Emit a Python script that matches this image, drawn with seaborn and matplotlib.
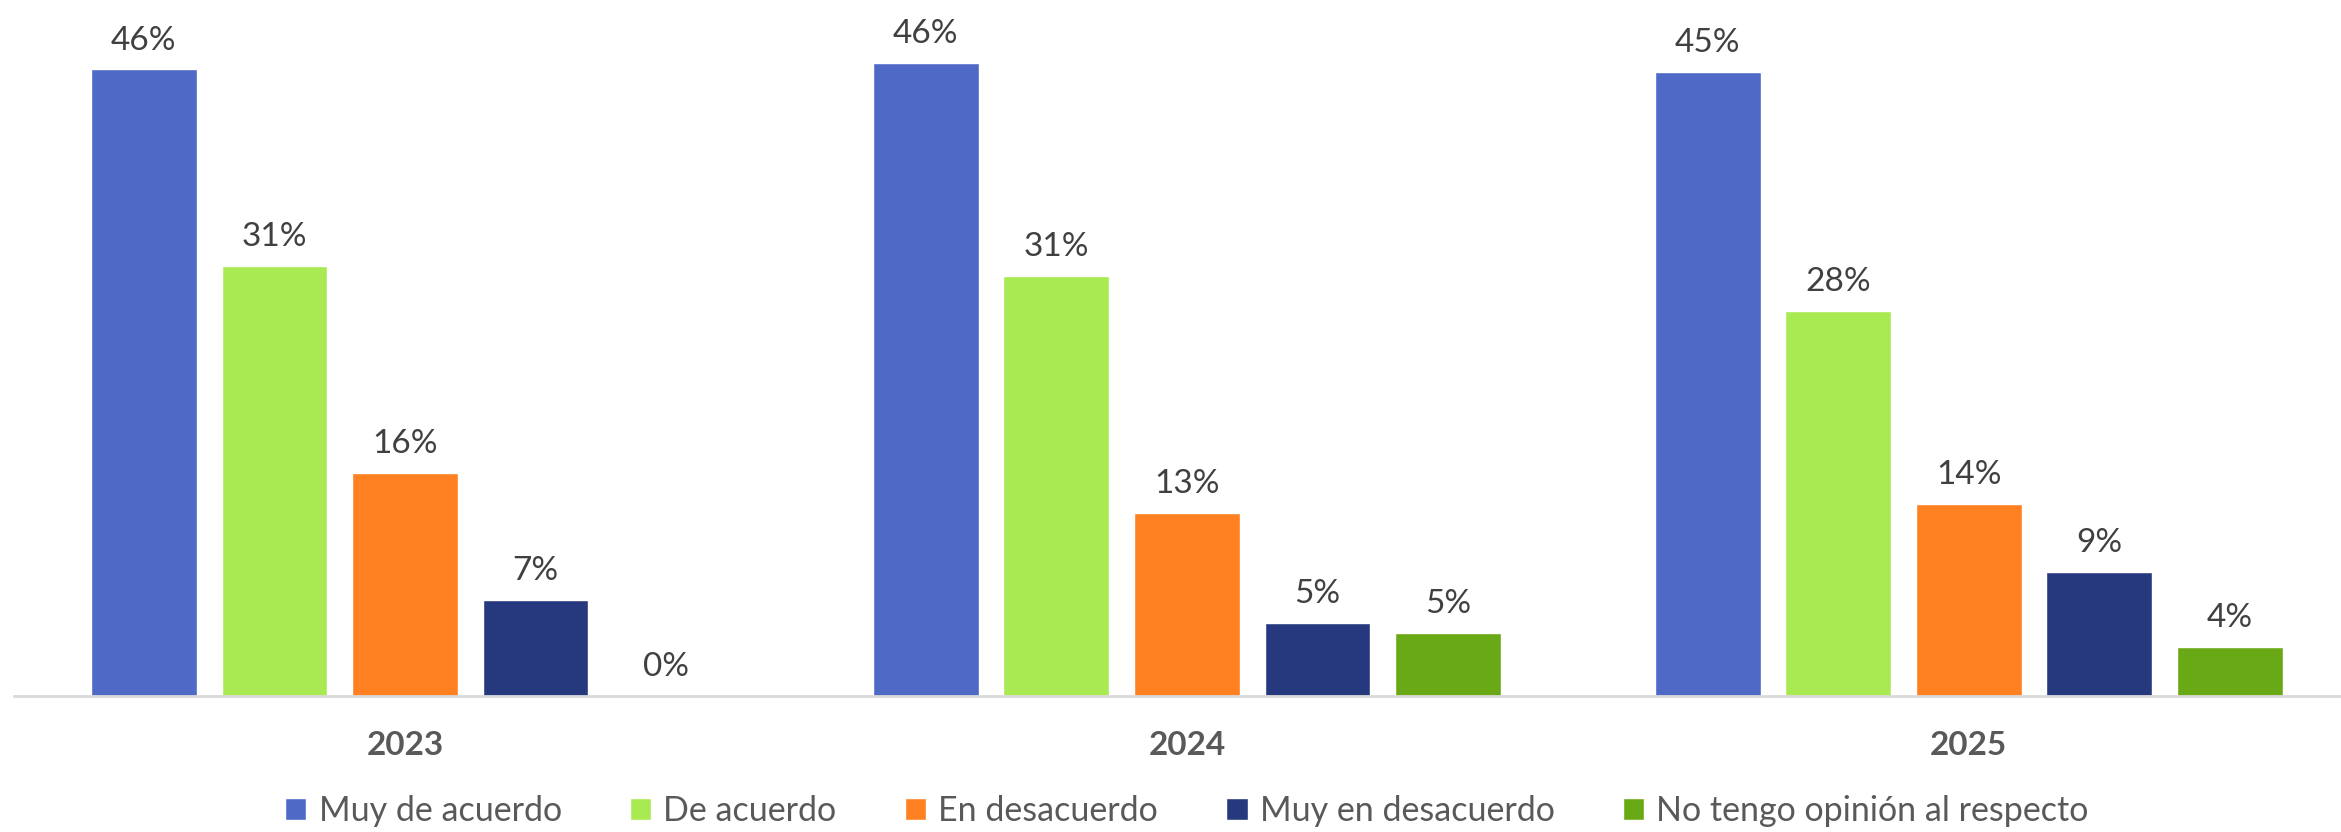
import matplotlib
matplotlib.use("Agg")
import matplotlib.pyplot as plt
import seaborn as sns
import pandas as pd

years = ["2023", "2024", "2025"]
categories = ["Muy de acuerdo", "De acuerdo", "En desacuerdo",
              "Muy en desacuerdo", "No tengo opinión al respecto"]
muy_de_acuerdo = [45.6, 46.1, 45.4]
de_acuerdo = [31.3, 30.6, 28.0]
en_desacuerdo = [16.2, 13.3, 14.0]
muy_en_desacuerdo = [7.0, 5.3, 9.0]
no_opinion = [0.0, 4.6, 3.6]
colors = ["#4F69C6", "#A9EA52", "#FE8021", "#27397E", "#6AA916"]

series = [muy_de_acuerdo, de_acuerdo, en_desacuerdo, muy_en_desacuerdo, no_opinion]
rows = []
for cat, vals in zip(categories, series):
    for y, v in zip(years, vals):
        rows.append({"year": y, "cat": cat, "value": v})
df = pd.DataFrame(rows)

sns.set_theme(style="white")
plt.rcParams["font.family"] = ["Lato", "DejaVu Sans"]

fig = plt.figure(figsize=(23.41, 8.32), dpi=100)
ax = fig.add_axes([0.006, 0.1635, 1.002, 0.8365])

sns.barplot(data=df, x="year", y="value", hue="cat", order=years,
            hue_order=categories, palette=colors, width=0.835, gap=0.19,
            saturation=1, ax=ax, legend=True)

for cont, vals in zip(ax.containers, series):
    ax.bar_label(cont, labels=[f"{v:.0f}%" for v in vals], padding=10,
                 fontsize=24, color="#404040")

ax.set_xlim(-0.5, 2.5)
ax.set_ylim(0, 50.65)
ax.set_xlabel("")
ax.set_ylabel("")
ax.set_yticks([])
for s in ["top", "left", "right"]:
    ax.spines[s].set_visible(False)
ax.spines["bottom"].set_color("#D9D9D9")
ax.spines["bottom"].set_linewidth(2)
ax.tick_params(axis="x", length=0, pad=25, labelsize=24, labelcolor="#595959")
for lab in ax.get_xticklabels():
    lab.set_fontweight("bold")

handles, labels = ax.get_legend_handles_labels()
ax.legend_.remove()
fig.legend(handles, labels, loc="center", bbox_to_anchor=(0.507, 0.025),
           ncol=5, frameon=False, fontsize=24.5, handlelength=0.63,
           handleheight=0.63, handletextpad=0.36, columnspacing=2.0,
           labelcolor="#595959", borderaxespad=0, borderpad=0)

fig.savefig("out.png", dpi=100)
